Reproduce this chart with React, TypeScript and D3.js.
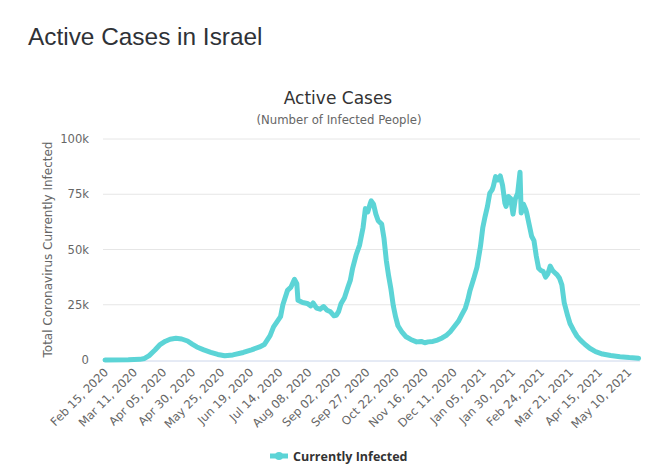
import React from "react";
import * as d3 from "d3";

// Day offsets since Feb 15, 2020 (category index) and active cases (thousands)
const dayIndex = [
  0, 20, 30, 34, 38, 43, 47, 52, 56, 61, 66, 71, 75, 79, 85, 91, 97, 103, 110, 119,
  126, 133, 137, 142, 145, 151, 153, 157, 160, 163, 165, 166, 170, 174, 177, 179, 182, 185, 188, 191,
  194, 197, 199, 201, 203, 206, 209, 211, 213, 216, 219, 222, 224, 226, 228, 229, 231, 233, 235, 238,
  240, 242, 244, 246, 248, 250, 252, 255, 259, 263, 268, 272, 275, 278, 282, 286, 290, 294, 297, 300,
  304, 307, 310, 312, 314, 317, 320, 323, 325, 327, 329, 331, 333, 334, 336, 338, 340, 342, 344, 345,
  347, 349, 351, 353, 355, 357, 358, 360, 362, 363, 365, 367, 369, 371, 373, 375, 377, 379, 381, 383,
  385, 387, 389, 391, 393, 395, 398, 400, 403, 406, 409, 413, 417, 422, 428, 435, 443, 451, 459,
];
const activeK = [
  0, 0.1, 0.3, 0.7, 2.0, 4.5, 6.8, 8.5, 9.4, 9.8, 9.5, 8.6, 7.2, 5.9, 4.6, 3.5, 2.5, 1.9, 2.3, 3.4,
  4.6, 5.9, 7.0, 11, 15, 19.6, 25, 31.5, 33, 36.5, 34.5, 27, 26, 25.6, 24.5, 25.8, 23.5, 23.0, 24.2, 22.5,
  21.8, 20.0, 20.2, 22, 25.5, 28.2, 33, 36, 41.5, 47.5, 52, 60, 68.5, 67, 70.5, 72, 70.5, 66, 63, 61.5,
  55, 45, 38, 32, 24.5, 19.5, 15.5, 13, 10.5, 9.3, 8.2, 8.4, 7.8, 8.2, 8.4, 9.0, 10, 11.3, 12.8, 14.8,
  17.5, 20.5, 23.5, 27, 31.5, 36.5, 42, 51.5, 60, 65, 69.5, 75.5, 77, 78.5, 83, 81.5, 83.3, 79, 71, 69.5,
  74, 73, 66, 73, 75.5, 85, 66.5, 70.5, 68, 66, 61, 56, 54, 47, 41.5, 40.5, 40, 37.5, 39, 42.5,
  40.5, 39.5, 38.5, 37, 34, 26, 20, 16.5, 13.5, 10.8, 9, 7, 5.3, 3.8, 2.7, 2.0, 1.5, 1.1, 0.8,
];

const xTickLabels = [
  "Feb 15, 2020", "Mar 11, 2020", "Apr 05, 2020", "Apr 30, 2020", "May 25, 2020",
  "Jun 19, 2020", "Jul 14, 2020", "Aug 08, 2020", "Sep 02, 2020", "Sep 27, 2020",
  "Oct 22, 2020", "Nov 16, 2020", "Dec 11, 2020", "Jan 05, 2021", "Jan 30, 2021",
  "Feb 24, 2021", "Mar 21, 2021", "Apr 15, 2021", "May 10, 2021",
];
const tickStep = 25;
const yTicks = [0, 25000, 50000, 75000, 100000];

const W = 670;
const H = 476;
const plotLeft = 103;
const plotRight = 640;
const plotTop = 139;
const plotBottom = 360;
const lineColor = "#5cd4d6";
const chartFont = "'DejaVu Sans', Verdana, sans-serif";

export default function App() {
  const x = d3.scaleLinear().domain([0, 460]).range([105, 639.75]);
  const y = d3.scaleLinear().domain([0, 100000]).range([plotBottom, plotTop]);
  const pts = dayIndex.map((d, i) => [d, activeK[i] * 1000] as [number, number]);
  const line = d3
    .line<[number, number]>()
    .x((d) => x(d[0]))
    .y((d) => y(d[1]));
  const fmt = (v: number) => (v === 0 ? "0" : `${v / 1000}k`);

  return (
    <svg
      width={W}
      height={H}
      style={{ position: "absolute", left: 0, top: 0, background: "#fff" }}
    >
      <text
        x={28}
        y={45}
        fontFamily="'Liberation Sans', Arial, sans-serif"
        fontSize={24.4}
        fill="#2f3237"
      >
        Active Cases in Israel
      </text>
      <text x={338} y={104} textAnchor="middle" fontFamily={chartFont} fontSize={17} fill="#333">
        Active Cases
      </text>
      <text x={339} y={124} textAnchor="middle" fontFamily={chartFont} fontSize={11.7} fill="#666">
        (Number of Infected People)
      </text>

      {yTicks.map((t) => (
        <g key={t}>
          {t > 0 && (
            <line x1={plotLeft} x2={plotRight} y1={y(t)} y2={y(t)} stroke="#e6e6e6" strokeWidth={1} />
          )}
          <text
            x={89}
            y={y(t)}
            dy="0.35em"
            textAnchor="end"
            fontFamily={chartFont}
            fontSize={11.6}
            fill="#666"
          >
            {fmt(t)}
          </text>
        </g>
      ))}
      <line x1={plotLeft} x2={plotRight} y1={plotBottom + 1} y2={plotBottom + 1} stroke="#ccd6eb" strokeWidth={1} />

      <text
        transform={`translate(52,${(plotTop + plotBottom) / 2}) rotate(-90)`}
        textAnchor="middle"
        fontFamily={chartFont}
        fontSize={12}
        fill="#666"
      >
        Total Coronavirus Currently Infected
      </text>

      {xTickLabels.map((lab, i) => (
        <text
          key={lab}
          transform={`translate(${x(i * tickStep) + 4},${plotBottom + 13}) rotate(-45)`}
          textAnchor="end"
          fontFamily={chartFont}
          fontSize={11.6}
          fill="#666"
        >
          {lab}
        </text>
      ))}

      <path d={line(pts) ?? ""} fill="none" stroke={lineColor} strokeWidth={5} strokeLinejoin="round" strokeLinecap="round" />

      <g>
        <line x1={270} x2={288} y1={456} y2={456} stroke={lineColor} strokeWidth={5} />
        <circle cx={279} cy={456} r={4} fill={lineColor} />
        <text x={293} y={461} fontFamily="'Open Sans', sans-serif" fontSize={12.5} fontWeight="bold" fill="#333">
          Currently Infected
        </text>
      </g>
    </svg>
  );
}
